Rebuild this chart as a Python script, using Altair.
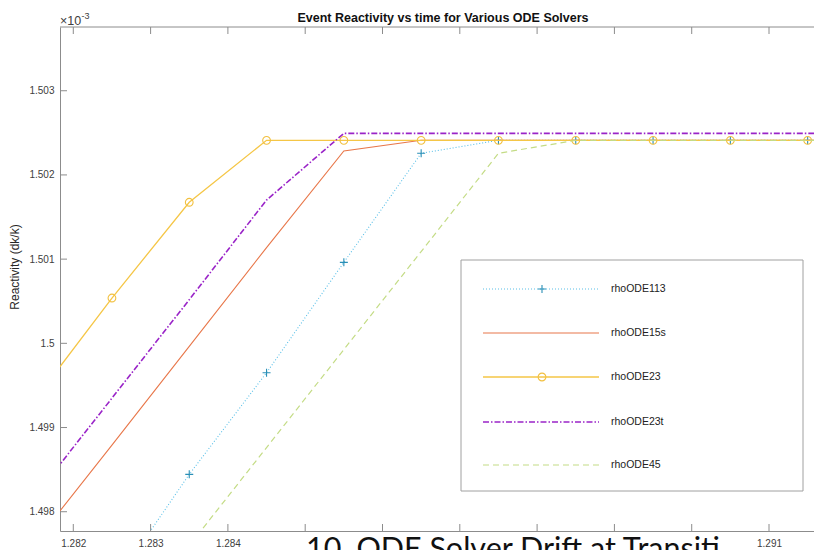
import altair as alt
import pandas as pd

# ---- data (values in units of 1e-3) ----
t = [1.2815, 1.2825, 1.2835, 1.2845, 1.2855, 1.2865, 1.2875, 1.2885, 1.2895, 1.2905, 1.2915, 1.2925]
rhoODE113 = [1.49580, 1.497106, 1.498444, 1.499651, 1.500962, 1.502257, 1.502411, 1.502411, 1.502411, 1.502411, 1.502411, 1.502411]
rhoODE15s = [1.497629, 1.498790, 1.499963, 1.501137, 1.502284, 1.502411, 1.502411, 1.502411, 1.502411, 1.502411, 1.502411, 1.502411]
rhoODE23 = [1.499325, 1.500538, 1.501675, 1.502411, 1.502411, 1.502411, 1.502411, 1.502411, 1.502411, 1.502411, 1.502411, 1.502411]
rhoODE23t = [1.498180, 1.499349, 1.500518, 1.501702, 1.502494, 1.502494, 1.502494, 1.502494, 1.502494, 1.502494, 1.502494, 1.502494]
rhoODE45 = [1.49530, 1.49643, 1.497598, 1.498762, 1.499926, 1.501090, 1.502257, 1.502411, 1.502411, 1.502411, 1.502411, 1.502411]

series_names = ["rhoODE113", "rhoODE15s", "rhoODE23", "rhoODE23t", "rhoODE45"]
series_values = [rhoODE113, rhoODE15s, rhoODE23, rhoODE23t, rhoODE45]

x_ticks = [1.282, 1.283, 1.284, 1.285, 1.286, 1.287, 1.288, 1.289, 1.290, 1.291]
y_ticks = [1.498, 1.499, 1.500, 1.501, 1.502, 1.503]

# ---- styles ----
line_colors = ["#5BC0E8", "#E8774A", "#F5C646", "#9A24C8", "#C4DC86"]
marker_colors = ["#2A8FB6", None, "#F2C040", None, None]
dashes = [[1, 2], None, None, [6, 2, 1.5, 2], [6, 4]]
widths = [1.1, 1.1, 1.3, 1.6, 1.2]
PLUS = "M-1,0L1,0M0,-1L0,1"
markers = ["plus", None, "circle", None, None]

W, H = 754, 504
XDOM = [1.281828, 1.291582]
YDOM = [1.497771, 1.503757]
AX = "#8c8c8c"
LBL = "#404040"
FONT = "Liberation Sans"

xscale = alt.Scale(domain=XDOM, nice=False, zero=False)
yscale = alt.Scale(domain=YDOM, nice=False, zero=False)
xaxis = alt.Axis(values=x_ticks, ticks=False, grid=False, title=None, domainColor=AX,
                 labelColor=LBL, labelFontSize=10, labelFont=FONT, labelPadding=7,
                 labelFlush=False,
                 labelExpr="(datum.value < 1.2845 || datum.value > 1.2905) ? format(datum.value, '.3f') : ''")
yaxis = alt.Axis(values=y_ticks, ticks=False, grid=False, title=None, domainColor=AX,
                 labelColor=LBL, labelFontSize=10, labelFont=FONT, labelPadding=6,
                 format=".3~f", labelFlush=False)

layers = []
for i, name in enumerate(series_names):
    df = pd.DataFrame({"t": t, "v": series_values[i]})
    kw = dict(clip=True, color=line_colors[i], strokeWidth=widths[i])
    if dashes[i] is not None:
        kw["strokeDash"] = dashes[i]
    base = alt.Chart(df).encode(
        x=alt.X("t:Q", scale=xscale, axis=xaxis),
        y=alt.Y("v:Q", scale=yscale, axis=yaxis),
    )
    layers.append(base.mark_line(**kw))
    if markers[i] == "plus":
        layers.append(base.mark_point(clip=True, shape=PLUS, size=64, filled=False,
                                      color=marker_colors[i], strokeWidth=1.1, opacity=1))
    elif markers[i] == "circle":
        layers.append(base.mark_point(clip=True, shape="circle", size=60, filled=False,
                                      color=marker_colors[i], strokeWidth=1.1, opacity=1))

one = pd.DataFrame({"a": [0]})
xt = pd.DataFrame({"t": x_ticks})
yt = pd.DataFrame({"v": y_ticks})

# inward ticks and top border
layers.append(alt.Chart(xt).mark_rule(color=AX, strokeWidth=1).encode(
    x=alt.X("t:Q", scale=xscale, axis=xaxis), y=alt.value(H), y2=alt.value(H - 7)))
layers.append(alt.Chart(xt).mark_rule(color=AX, strokeWidth=1).encode(
    x=alt.X("t:Q", scale=xscale, axis=xaxis), y=alt.value(0), y2=alt.value(7)))
layers.append(alt.Chart(yt).mark_rule(color=AX, strokeWidth=1).encode(
    y=alt.Y("v:Q", scale=yscale, axis=yaxis), x=alt.value(0), x2=alt.value(7)))
layers.append(alt.Chart(one).mark_rule(color=AX, strokeWidth=1).encode(
    x=alt.value(0), x2=alt.value(W), y=alt.value(0)))

# legend
layers.append(alt.Chart(one).mark_rect(fill="white", stroke="#a0a0a0", strokeWidth=1).encode(
    x=alt.value(401), x2=alt.value(743), y=alt.value(233), y2=alt.value(464)))
row_y = [262, 306, 350, 395, 438]
for i, name in enumerate(series_names):
    kw = dict(color=line_colors[i], strokeWidth=widths[i])
    if dashes[i] is not None:
        kw["strokeDash"] = dashes[i]
    layers.append(alt.Chart(one).mark_rule(**kw).encode(
        x=alt.value(423), x2=alt.value(539), y=alt.value(row_y[i])))
    if markers[i] == "plus":
        layers.append(alt.Chart(one).mark_point(shape=PLUS, size=64, filled=False, color=marker_colors[i],
                                                strokeWidth=1.1, opacity=1).encode(
            x=alt.value(482), y=alt.value(row_y[i])))
    elif markers[i] == "circle":
        layers.append(alt.Chart(one).mark_point(shape="circle", size=60, filled=False, color=marker_colors[i],
                                                strokeWidth=1.1, opacity=1).encode(
            x=alt.value(482), y=alt.value(row_y[i])))
    layers.append(alt.Chart(one).mark_text(text=name, align="left", baseline="middle", fontSize=10.5,
                                           font=FONT, color="#222222").encode(
        x=alt.value(551), y=alt.value(row_y[i])))

# texts
layers.append(alt.Chart(one).mark_text(text="Event Reactivity vs time for Various ODE Solvers", align="center",
                                       baseline="alphabetic", fontSize=12.5, fontWeight="bold", font=FONT,
                                       color="#111111").encode(x=alt.value(383), y=alt.value(-5)))
layers.append(alt.Chart(one).mark_text(text="Reactivity (dk/k)", align="center", baseline="middle", angle=270,
                                       fontSize=12, font=FONT, color="#262626").encode(
    x=alt.value(-45), y=alt.value(240)))
layers.append(alt.Chart(one).mark_text(text="\u00d710", align="left", baseline="alphabetic", fontSize=12.5,
                                       font=FONT, color=LBL).encode(x=alt.value(0), y=alt.value(-2)))
layers.append(alt.Chart(one).mark_text(text="-3", align="left", baseline="alphabetic", fontSize=9,
                                       font=FONT, color=LBL).encode(x=alt.value(21.5), y=alt.value(-8.5)))
layers.append(alt.Chart(one).mark_text(text="10. ODE Solver Drift at Transiti", align="left", baseline="alphabetic",
                                       fontSize=30.5, font="Lato", color="#111111").encode(
    x=alt.value(246), y=alt.value(532)))

chart = alt.layer(*layers).properties(
    width=W, height=H,
    autosize=alt.AutoSizeParams(type="none"),
    padding={"left": 60, "top": 27, "right": 0, "bottom": 19},
    background="white",
).configure_view(stroke=None)

chart.save("out.html", embed_options={"renderer": "svg", "actions": False})
